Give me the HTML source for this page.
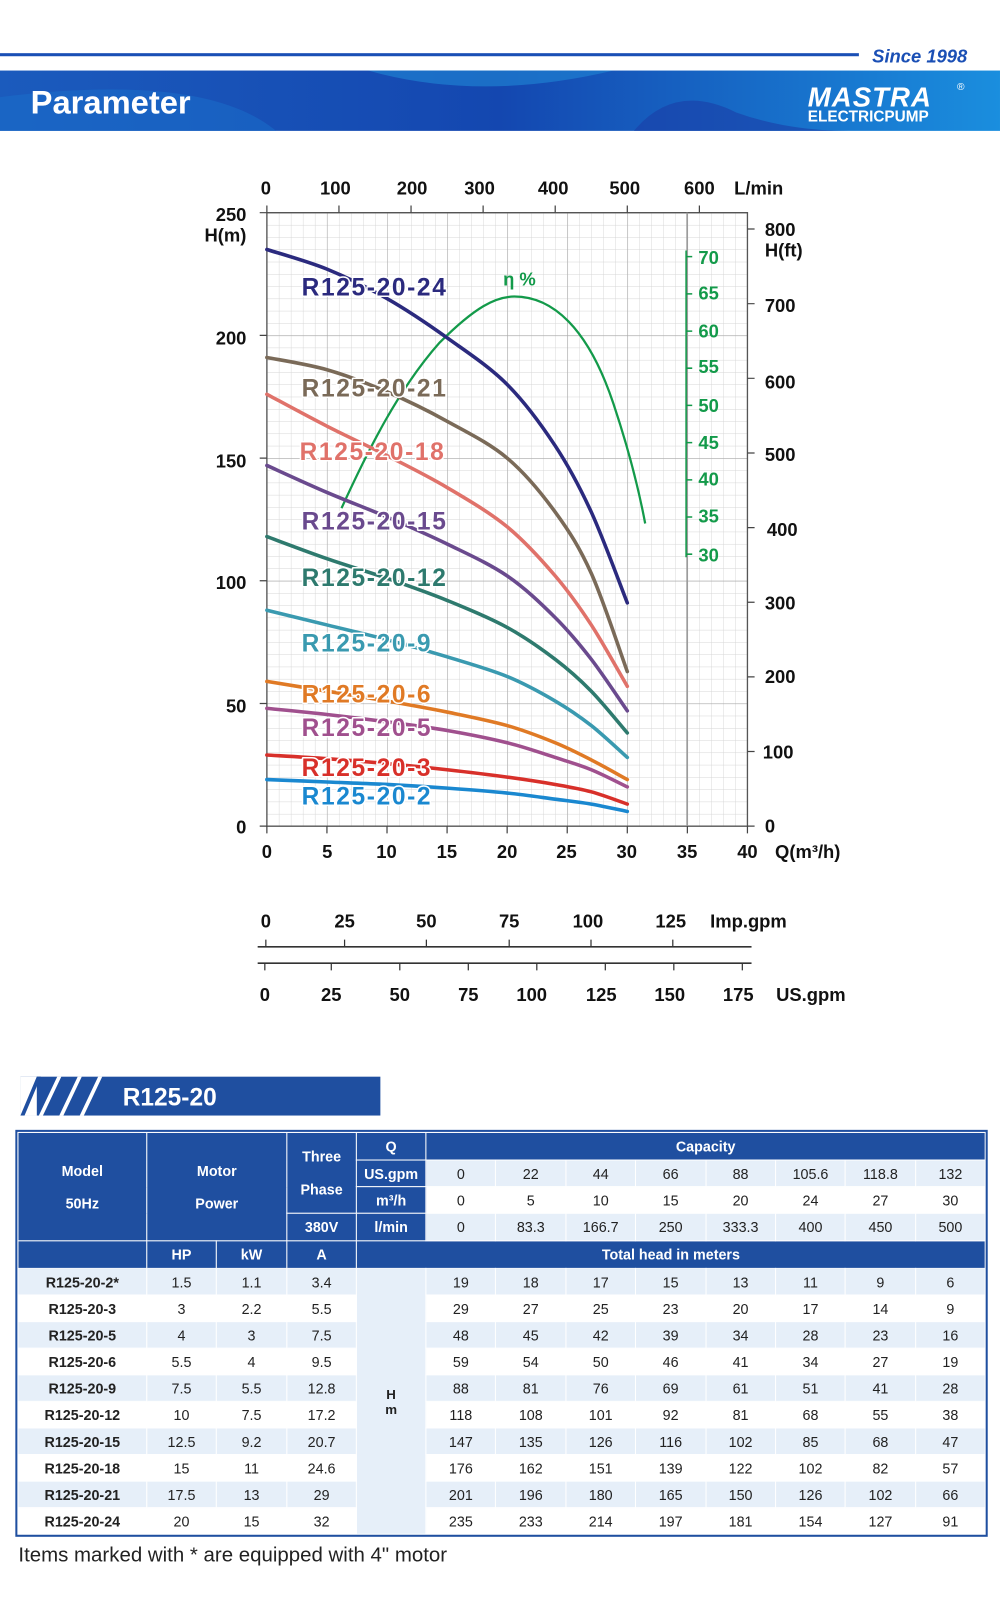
<!DOCTYPE html>
<html><head><meta charset="utf-8">
<style>
html,body{margin:0;padding:0;background:#fff;}
body{width:1000px;height:1603px;overflow:hidden;position:relative;}
#w{position:absolute;left:0;top:0;width:978px;height:1568px;transform:scale(1.02249);transform-origin:0 0;font-family:"Liberation Sans",sans-serif;}
.abs{position:absolute;}
table{position:absolute;left:17px;top:1107px;width:946px;border-collapse:collapse;table-layout:fixed;font-family:"Liberation Sans",sans-serif;font-size:14px;text-align:center;outline:2px solid #1f4fa0;}
td{padding:0;border:1px solid #fff;color:#222;}
tr.a td{background:#e6eff9;}
tr.b td{background:#fff;}
td.h,tr.a td.h,tr.b td.h{background:#1f4fa0;color:#fff;font-weight:bold;font-size:14px;}
td.m{background:#e6eff9 !important;font-weight:bold;font-size:13px;}
td.md{font-weight:bold;}
</style></head><body><div id="w">
<svg class="abs" style="left:0;top:0" width="978" height="1568" xmlns="http://www.w3.org/2000/svg" font-family="Liberation Sans, sans-serif">
<defs>
<linearGradient id="bg" x1="0" x2="1" y1="0" y2="0">
<stop offset="0" stop-color="#1b5bbd"/><stop offset="0.5" stop-color="#1447b0"/><stop offset="1" stop-color="#1a8ede"/></linearGradient>
<pattern id="minor" patternUnits="userSpaceOnUse" x="261" y="208" width="11.75" height="12">
<path d="M0 0V12M0 0H11.75" stroke="#d6d6d6" stroke-width="0.9" fill="none"/></pattern>
<pattern id="major" patternUnits="userSpaceOnUse" x="261" y="208" width="58.75" height="120">
<path d="M0 0V120M0 0H58.75" stroke="#a9a9a9" stroke-width="1.1" fill="none"/></pattern>
</defs>
<rect x="0" y="52" width="840" height="3" fill="#1a4fb5"/>
<text x="853" y="61" font-size="18" font-weight="bold" font-style="italic" fill="#1a4fb5">Since 1998</text>
<rect x="0" y="69" width="978" height="59" fill="url(#bg)"/>
<path d="M360 69 Q470 100 600 69Z" fill="#1e7fd0" opacity="0.7"/>
<path d="M0 95 Q200 70 270 128 L0 128Z" fill="#1a6fcc" opacity="0.5"/>
<path d="M620 128 Q660 80 720 110 Q770 128 830 128Z" fill="#1a3ea6" opacity="0.6"/>
<text x="30" y="111" font-size="32" font-weight="bold" fill="#fff">Parameter</text>
<text x="790" y="104" font-size="27" font-weight="bold" font-style="italic" fill="#fff" letter-spacing="1">MASTRA</text>
<text x="936" y="88" font-size="10" fill="#fff">®</text>
<text x="790" y="119" font-size="15" font-weight="bold" fill="#fff">ELECTRICPUMP</text>
<rect x="261" y="208" width="470" height="600" fill="url(#minor)"/>
<rect x="261" y="208" width="470" height="600" fill="url(#major)"/>
<path d="M261 208V808H731V208H261" stroke="#555" stroke-width="1.3" fill="none"/>
<line x1="672" y1="208" x2="672" y2="808" stroke="#999" stroke-width="1.5"/>
<g stroke="#444" stroke-width="1.2">
<path d="M254 208H261M254 328H261M254 448H261M254 568H261M254 688H261M254 808H261"/>
<path d="M261 808V815M319.75 808V815M378.5 808V815M437.25 808V815M496 808V815M554.75 808V815M613.5 808V815M672.25 808V815M731 808V815"/>
<path d="M261 208V201M331.5 208V201M402 208V201M472.5 208V201M543 208V201M613.5 208V201M684 208V201"/>
<path d="M731 224H738M731 297H738M731 370H738M731 443H738M731 516H738M731 589H738M731 662H738M731 735H738M731 808H738"/>
</g>
<g font-size="18" font-weight="bold" fill="#111">
<text x="260" y="190" text-anchor="middle">0</text><text x="328" y="190" text-anchor="middle">100</text><text x="403" y="190" text-anchor="middle">200</text><text x="469" y="190" text-anchor="middle">300</text><text x="541" y="190" text-anchor="middle">400</text><text x="611" y="190" text-anchor="middle">500</text><text x="684" y="190" text-anchor="middle">600</text><text x="718" y="190">L/min</text>
<g text-anchor="end"><text x="241" y="216">250</text><text x="241" y="236">H(m)</text><text x="241" y="337">200</text><text x="241" y="457">150</text><text x="241" y="576">100</text><text x="241" y="697">50</text><text x="241" y="815">0</text></g>
<text x="748" y="231">800</text><text x="748" y="251">H(ft)</text><text x="748" y="305">700</text><text x="748" y="380">600</text><text x="748" y="451">500</text><text x="750" y="524">400</text><text x="748" y="596">300</text><text x="748" y="668">200</text><text x="746" y="742">100</text><text x="748" y="814">0</text>
<g text-anchor="middle"><text x="261" y="839">0</text><text x="320" y="839">5</text><text x="378" y="839">10</text><text x="437" y="839">15</text><text x="496" y="839">20</text><text x="554" y="839">25</text><text x="613" y="839">30</text><text x="672" y="839">35</text><text x="731" y="839">40</text></g>
<text x="758" y="839">Q(m³/h)</text>
</g>
<g stroke="#139a4a" stroke-width="1.5"><line x1="671" y1="245" x2="671" y2="545"/>
<path d="M671 251H677M671 287.4H677M671 323.8H677M671 360.1H677M671 396.5H677M671 432.9H677M671 469.3H677M671 505.6H677M671 542H677"/></g>
<g font-size="18" font-weight="bold" fill="#139a4a"><text x="683" y="258">70</text><text x="683" y="293">65</text><text x="683" y="330">60</text><text x="683" y="365">55</text><text x="683" y="403">50</text><text x="683" y="439">45</text><text x="683" y="475">40</text><text x="683" y="511">35</text><text x="683" y="549">30</text>
<text x="492" y="279">η %</text></g>
<path fill="none" stroke="#139a4a" stroke-width="2.2" d="M334 497 C360 440 390 380 430 335 C465 300 485 290 503 290 C540 290 575 320 600 395 C615 440 625 480 631 512"/>
<g id="curves" fill="none" stroke-width="3.5" stroke-linejoin="round" stroke-linecap="round"></g>
<g font-size="24" font-weight="bold" letter-spacing="1.6" stroke="#fff" stroke-width="3" paint-order="stroke" stroke-linejoin="round">
<text x="295" y="289" fill="#2b2a7e">R125-20-24</text>
<text x="295" y="388" fill="#7a6a58">R125-20-21</text>
<text x="293" y="450" fill="#e0726a">R125-20-18</text>
<text x="295" y="518" fill="#6a4a8e">R125-20-15</text>
<text x="295" y="573" fill="#2e7a6e">R125-20-12</text>
<text x="295" y="637" fill="#3a9ab0">R125-20-9</text>
<text x="295" y="687" fill="#e07a25">R125-20-6</text>
<text x="295" y="720" fill="#a0508e">R125-20-5</text>
<text x="295" y="759" fill="#d8302a">R125-20-3</text>
<text x="295" y="787" fill="#1a88d0">R125-20-2</text>
</g>
<g stroke="#333" stroke-width="1.5"><line x1="252" y1="926" x2="735" y2="926"/><line x1="252" y1="942" x2="735" y2="942"/></g>
<g stroke="#333" stroke-width="1.2">
<path d="M260 926V919M337 926V919M417 926V919M498 926V919M578 926V919M658 926V919"/>
<path d="M259 942V949M324 942V949M391 942V949M458 942V949M525 942V949M592 942V949M659 942V949M726 942V949"/></g>
<g font-size="18" font-weight="bold" fill="#111" text-anchor="middle">
<text x="260" y="907">0</text><text x="337" y="907">25</text><text x="417" y="907">50</text><text x="498" y="907">75</text><text x="575" y="907">100</text><text x="656" y="907">125</text><text x="732" y="907">Imp.gpm</text>
<text x="259" y="979">0</text><text x="324" y="979">25</text><text x="391" y="979">50</text><text x="458" y="979">75</text><text x="520" y="979">100</text><text x="588" y="979">125</text><text x="655" y="979">150</text><text x="722" y="979">175</text><text x="793" y="979">US.gpm</text>
</g>
<rect x="20" y="1053" width="352" height="38" fill="#1f4fa0"/>
<rect x="20" y="1053" width="16" height="38" fill="#fff"/>
<path d="M20 1091L36 1053H40L24 1091Z" fill="#1f4fa0"/>
<path d="M38 1091L56 1053H60L42 1091ZM58 1091L76 1053H80L62 1091ZM78 1091L96 1053H100L82 1091Z" fill="#fff"/>
<text x="120" y="1081" font-size="24" font-weight="bold" fill="#fff">R125-20</text>
<text x="18" y="1527" font-size="20" fill="#222">Items marked with * are equipped with 4" motor</text>
</svg>
<table>
<colgroup><col style="width:126px"><col style="width:68px"><col style="width:69px"><col style="width:68px"><col style="width:68px"><col span="8" style="width:68.4px"></colgroup>
<tr style="height:27px"><td class="h" rowspan="4">Model<br><br>50Hz</td><td class="h" rowspan="4" colspan="2">Motor<br><br>Power</td><td class="h" rowspan="3">Three<br><br>Phase</td><td class="h">Q</td><td class="h" colspan="8">Capacity</td></tr>
<tr style="height:26px" class="a"><td class="h">US.gpm</td><td>0</td><td>22</td><td>44</td><td>66</td><td>88</td><td>105.6</td><td>118.8</td><td>132</td></tr>
<tr style="height:26px" class="b"><td class="h">m³/h</td><td>0</td><td>5</td><td>10</td><td>15</td><td>20</td><td>24</td><td>27</td><td>30</td></tr>
<tr style="height:27px" class="a"><td class="h">380V</td><td class="h">l/min</td><td>0</td><td>83.3</td><td>166.7</td><td>250</td><td>333.3</td><td>400</td><td>450</td><td>500</td></tr>
<tr style="height:27px"><td class="h"></td><td class="h">HP</td><td class="h">kW</td><td class="h">A</td><td class="h" colspan="9">Total head in meters</td></tr>
<tr style="height:26px" class="a"><td class="md">R125-20-2*</td><td>1.5</td><td>1.1</td><td>3.4</td><td class="m" rowspan="10">H<br>m</td><td>19</td><td>18</td><td>17</td><td>15</td><td>13</td><td>11</td><td>9</td><td>6</td></tr>
<tr style="height:26px" class="b"><td class="md">R125-20-3</td><td>3</td><td>2.2</td><td>5.5</td><td>29</td><td>27</td><td>25</td><td>23</td><td>20</td><td>17</td><td>14</td><td>9</td></tr>
<tr style="height:26px" class="a"><td class="md">R125-20-5</td><td>4</td><td>3</td><td>7.5</td><td>48</td><td>45</td><td>42</td><td>39</td><td>34</td><td>28</td><td>23</td><td>16</td></tr>
<tr style="height:26px" class="b"><td class="md">R125-20-6</td><td>5.5</td><td>4</td><td>9.5</td><td>59</td><td>54</td><td>50</td><td>46</td><td>41</td><td>34</td><td>27</td><td>19</td></tr>
<tr style="height:26px" class="a"><td class="md">R125-20-9</td><td>7.5</td><td>5.5</td><td>12.8</td><td>88</td><td>81</td><td>76</td><td>69</td><td>61</td><td>51</td><td>41</td><td>28</td></tr>
<tr style="height:26px" class="b"><td class="md">R125-20-12</td><td>10</td><td>7.5</td><td>17.2</td><td>118</td><td>108</td><td>101</td><td>92</td><td>81</td><td>68</td><td>55</td><td>38</td></tr>
<tr style="height:26px" class="a"><td class="md">R125-20-15</td><td>12.5</td><td>9.2</td><td>20.7</td><td>147</td><td>135</td><td>126</td><td>116</td><td>102</td><td>85</td><td>68</td><td>47</td></tr>
<tr style="height:26px" class="b"><td class="md">R125-20-18</td><td>15</td><td>11</td><td>24.6</td><td>176</td><td>162</td><td>151</td><td>139</td><td>122</td><td>102</td><td>82</td><td>57</td></tr>
<tr style="height:26px" class="a"><td class="md">R125-20-21</td><td>17.5</td><td>13</td><td>29</td><td>201</td><td>196</td><td>180</td><td>165</td><td>150</td><td>126</td><td>102</td><td>66</td></tr>
<tr style="height:26px" class="b"><td class="md">R125-20-24</td><td>20</td><td>15</td><td>32</td><td>235</td><td>233</td><td>214</td><td>197</td><td>181</td><td>154</td><td>127</td><td>91</td></tr>
</table>
</div>
<script>
(function(){
var Q=[0,5,10,15,20,24,27,30];
var D=[
["#1a88d0",[19,18,17,15.5,13.5,11,9,6]],
["#d8302a",[29,27.5,25.5,23,20,17,14,9]],
["#a0508e",[48,45.5,42.5,39,34,28,23,16]],
["#e07a25",[59,55,51,46.5,41,34,27,19]],
["#3a9ab0",[88,82,76,69,61,51,41,28]],
["#2e7a6e",[118,109,101,92,81,68,55,38]],
["#6a4a8e",[147,136,126,115,102,85,68,47]],
["#e0726a",[176,163,151,138,122,102,82,57]],
["#7a6a58",[191,186,177,165,150,128,103,63]],
["#2b2a7e",[235,227,215,199,180,155,128,91]]];
var g=document.getElementById('curves');
D.forEach(function(c){
 var p=Q.map(function(q,i){return [261+q*11.75,808-c[1][i]*2.4];});
 var d="M"+p[0][0]+" "+p[0][1];
 for(var i=0;i<p.length-1;i++){
  var p0=p[i-1]||p[i],p1=p[i],p2=p[i+1],p3=p[i+2]||p[i+1];
  var c1=[p1[0]+(p2[0]-p0[0])/6,p1[1]+(p2[1]-p0[1])/6];
  var c2=[p2[0]-(p3[0]-p1[0])/6,p2[1]-(p3[1]-p1[1])/6];
  d+=" C"+c1[0].toFixed(1)+" "+c1[1].toFixed(1)+" "+c2[0].toFixed(1)+" "+c2[1].toFixed(1)+" "+p2[0].toFixed(1)+" "+p2[1].toFixed(1);
 }
 var e=document.createElementNS("http://www.w3.org/2000/svg","path");
 e.setAttribute("d",d);e.setAttribute("stroke",c[0]);g.appendChild(e);
});
})();
</script>
</body></html>
